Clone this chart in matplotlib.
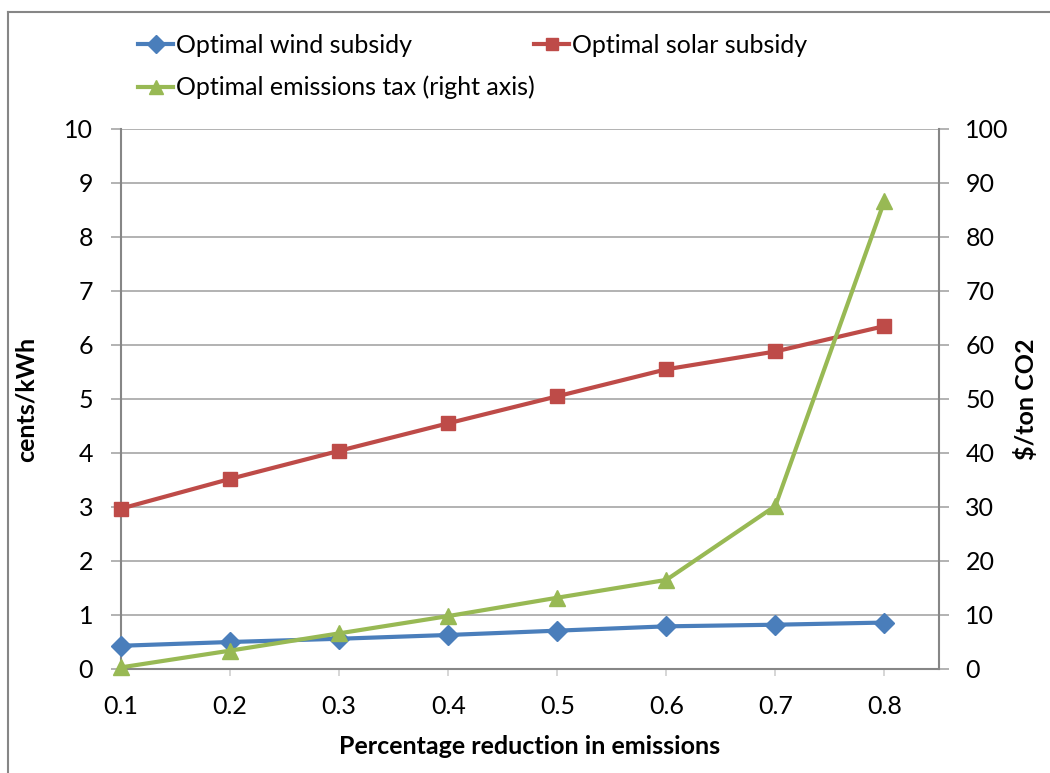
import matplotlib.pyplot as plt
from matplotlib.lines import Line2D

reduction = [0.1, 0.2, 0.3, 0.4, 0.5, 0.6, 0.7, 0.8]
wind_subsidy = [0.43, 0.50, 0.56, 0.63, 0.71, 0.79, 0.82, 0.86]
solar_subsidy = [2.97, 3.52, 4.04, 4.55, 5.05, 5.55, 5.88, 6.35]
emissions_tax = [0.3, 3.4, 6.6, 9.8, 13.2, 16.5, 30.2, 86.7]

left_ticks = list(range(0, 11))
right_ticks = list(range(0, 101, 10))

BLUE = "#4A7EBB"
RED = "#BE4B48"
GREEN = "#98B954"
GRID = "#A6A6A6"
AXIS = "#868686"
FS = 18

plt.rcParams["font.family"] = ["Lato", "DejaVu Sans"]

fig = plt.figure(figsize=(10.5, 7.73), dpi=100)
W, H = 1050, 773
x0, x1, y0, y1 = 121, 939, 669, 129
ax = fig.add_axes([x0 / W, 1 - y0 / H, (x1 - x0) / W, (y0 - y1) / H])
ax2 = ax.twinx()

ax.plot(reduction, wind_subsidy, color=BLUE, lw=3, marker="D", ms=10,
        label="Optimal wind subsidy", clip_on=False, zorder=3)
ax.plot(reduction, solar_subsidy, color=RED, lw=3, marker="s", ms=10,
        label="Optimal solar subsidy", clip_on=False, zorder=3)
ax2.plot(reduction, emissions_tax, color=GREEN, lw=3, marker="^", ms=11,
         label="Optimal emissions tax (right axis)", clip_on=False, zorder=3)

ax.set_xlim(0.1, 0.85)
ax.set_ylim(0, 10)
ax2.set_ylim(0, 100)
ax.set_xticks(reduction)
ax.set_xticklabels([f"{v:.1f}" for v in reduction])
ax.set_yticks(left_ticks)
ax2.set_yticks(right_ticks)

ax.grid(axis="y", color=GRID, lw=1.2)
ax.set_axisbelow(True)

for a in (ax, ax2):
    for side in ("top", "left", "right", "bottom"):
        a.spines[side].set_visible(False)
ax.spines["left"].set_visible(True)
ax.spines["left"].set_color(AXIS)
ax.spines["bottom"].set_visible(True)
ax.spines["bottom"].set_color(AXIS)
ax2.spines["right"].set_visible(True)
ax2.spines["right"].set_color(AXIS)
for s in (ax.spines["left"], ax.spines["bottom"], ax2.spines["right"]):
    s.set_linewidth(1.5)

ax.tick_params(axis="y", length=7, width=1.2, color=GRID, labelsize=FS, pad=13)
ax.tick_params(axis="x", length=5, width=1.2, color="#D0D0D0", labelsize=FS, pad=14)
ax2.tick_params(axis="y", length=7, width=1.2, color=GRID, labelsize=FS, pad=12)

ax.set_ylabel("cents/kWh", fontsize=FS, fontweight="bold", labelpad=19)
ax2.set_ylabel("$/ton CO2", fontsize=FS, fontweight="bold", labelpad=4)
ax.set_xlabel("Percentage reduction in emissions", fontsize=FS, fontweight="bold", labelpad=12)

# column-filled legend: wind / emissions in column 1, solar in column 2
handles = [
    Line2D([], [], color=BLUE, lw=3, marker="D", ms=9),
    Line2D([], [], color=GREEN, lw=3, marker="^", ms=10),
    Line2D([], [], color=RED, lw=3, marker="s", ms=9),
]
labels = ["Optimal wind subsidy", "Optimal emissions tax (right axis)", "Optimal solar subsidy"]
fig.legend(handles, labels, loc="upper left", bbox_to_anchor=(128 / W, 1 - 24 / H),
           ncol=2, frameon=False, fontsize=FS, handlelength=1.4, handletextpad=0.1,
           columnspacing=0.0, labelspacing=0.75, borderaxespad=0)

fig.add_artist(Line2D([8 / W, 1], [1 - 12 / H, 1 - 12 / H], color=AXIS, lw=1.5))
fig.add_artist(Line2D([8 / W, 8 / W], [0, 1 - 12 / H], color=AXIS, lw=1.5))

fig.savefig("out.png", dpi=100)
